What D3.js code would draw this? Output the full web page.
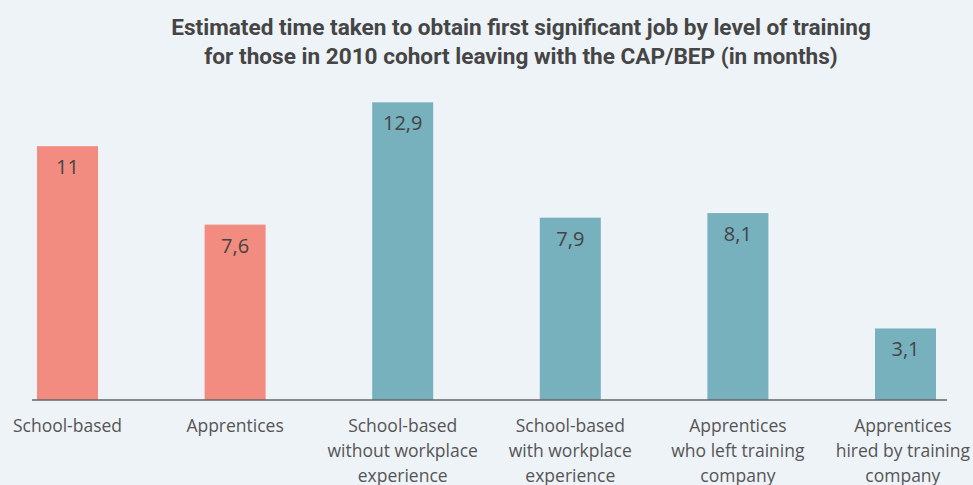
<!DOCTYPE html>
<html>
<head>
<meta charset="utf-8">
<script src="https://cdn.jsdelivr.net/npm/d3@7"></script>
<style>
  html, body { margin: 0; padding: 0; background: #eef3f8; }
  svg { display: block; }
</style>
</head>
<body>
<svg id="chart" width="973" height="485"></svg>
<script>
const categories = [
  ["School-based"],
  ["Apprentices"],
  ["School-based", "without workplace", "experience"],
  ["School-based", "with workplace", "experience"],
  ["Apprentices", "who left training", "company"],
  ["Apprentices", "hired by training", "company"]
];
const values = [11, 7.6, 12.9, 7.9, 8.1, 3.1];
const valueLabels = ["11", "7,6", "12,9", "7,9", "8,1", "3,1"];
const groups = ["overall", "overall", "detail", "detail", "detail", "detail"];
const titleLines = [
  "Estimated time taken to obtain first significant job by level of training",
  "for those in 2010 cohort leaving with the CAP/BEP (in months)"
];

const svg = d3.select("#chart");
const W = 973, H = 485;
svg.append("rect").attr("width", W).attr("height", H).attr("fill", "#eef3f8");

const idx = d3.range(values.length);
const x = d3.scaleBand().domain(idx).range([37, 936]).paddingInner(0.636).paddingOuter(0);
const y = d3.scaleLinear().domain([0, 13]).range([400, 100]);
const color = d3.scaleOrdinal().domain(["overall", "detail"]).range(["#f38c80", "#77b1bd"]);

// title
const title = svg.append("text")
  .attr("text-anchor", "middle")
  .attr("font-family", "Roboto, 'Open Sans', sans-serif")
  .attr("font-weight", "bold")
  .attr("font-size", 22.6)
  .attr("fill", "#454545");
titleLines.forEach((t, i) => {
  title.append("tspan").attr("x", 521).attr("y", 35 + i * 29).text(t);
});

// bars
svg.append("g").selectAll("rect").data(idx).join("rect")
  .attr("x", i => x(i))
  .attr("width", x.bandwidth())
  .attr("y", i => y(values[i]))
  .attr("height", i => y(0) - y(values[i]))
  .attr("fill", i => color(groups[i]));

// value labels
svg.append("g").selectAll("text").data(idx).join("text")
  .attr("x", i => x(i) + x.bandwidth() / 2)
  .attr("y", i => y(values[i]) + 28)
  .attr("text-anchor", "middle")
  .attr("font-family", "'Open Sans', 'Noto Sans', sans-serif")
  .attr("font-size", 20)
  .attr("fill", "#444")
  .text(i => valueLabels[i]);

// axis line
svg.append("line")
  .attr("x1", 32).attr("x2", 947)
  .attr("y1", y(0)).attr("y2", y(0))
  .attr("stroke", "#666").attr("stroke-width", 1.5);

// category labels
const lab = svg.append("g").selectAll("text").data(idx).join("text")
  .attr("text-anchor", "middle")
  .attr("font-family", "'Open Sans', 'Noto Sans', sans-serif")
  .attr("font-size", 17.5)
  .attr("fill", "#555");
lab.each(function(i) {
  const t = d3.select(this);
  let cx = x(i) + x.bandwidth() / 2;
  const spans = categories[i].map((line, k) =>
    t.append("tspan").attr("x", cx).attr("y", 432 + k * 25).text(line));
  const maxHalf = d3.max(spans, s => s.node().getComputedTextLength() / 2);
  if (cx + maxHalf > W - 3) cx = W - 3 - maxHalf;
  if (cx - maxHalf < 3) cx = 3 + maxHalf;
  spans.forEach(s => s.attr("x", cx));
});
</script>
</body>
</html>
